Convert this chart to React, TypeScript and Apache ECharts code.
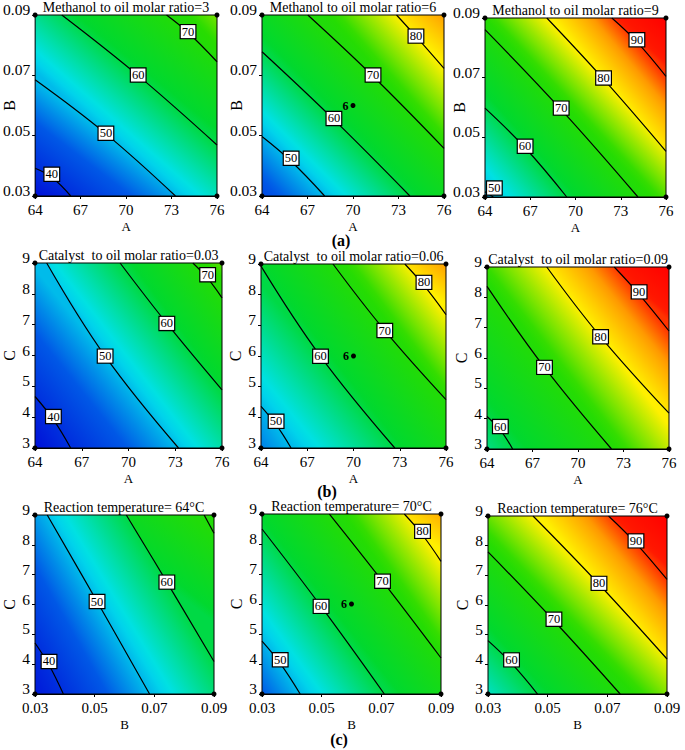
import React, { useEffect, useRef } from "react";
import * as echarts from "echarts";

// ---------- axes ----------
const A_RANGE = [64, 76];
const B_RANGE = [0.03, 0.09];
const C_RANGE = [3, 9];
const A_TICKS = [64, 67, 70, 73, 76];
const B_TICKS = [0.03, 0.05, 0.07, 0.09];
const C_TICKS = [3, 4, 5, 6, 7, 8, 9];

// ---------- colour scale (value -> colour) ----------
const COLOR_VALUES = [36, 45, 52, 61, 72, 80, 86, 91, 97];
const COLOR_HEX = ["#0010d8", "#0058e6", "#00e2ec", "#00d830", "#28dc00", "#fff000", "#ffa000", "#ff1800", "#ff0000"];

const TITLES = [
  "Methanol to oil molar ratio=3",
  "Methanol to oil molar ratio=6",
  "Methanol to oil molar ratio=9",
  "Catalyst  to oil molar ratio=0.03",
  "Catalyst  to oil molar ratio=0.06",
  "Catalyst  to oil molar ratio=0.09",
  "Reaction temperature= 64\u00b0C",
  "Reaction temperature= 70\u00b0C",
  "Reaction temperature= 76\u00b0C",
];
const ROW_LABELS = ["(a)", "(b)", "(c)"];
const CENTER_LABEL = "6";

// ---------- panel 1 : A vs B ----------
const p1Levels = [40, 50, 60, 70];
const p1Lines = [
  [[64, 0.0392], [65.1, 0.0362], [66.35, 0.03]],
  [[64, 0.0685], [68.67, 0.0506], [73.26, 0.03]],
  [[65.76, 0.09], [70.8, 0.0699], [76, 0.0469]],
  [[72.67, 0.09], [74.09, 0.0842], [76, 0.0745]],
];
const p1Labels = [[65.1, 0.0372, 40], [68.67, 0.0508, 50], [70.8, 0.0701, 60], [74.09, 0.0845, 70]];
const p1Extremes = [36, 75];

// ---------- panel 2 ----------
const p2Levels = [50, 60, 70, 80];
const p2Lines = [
  [[64, 0.0497], [65.92, 0.0415], [68.13, 0.03]],
  [[64, 0.0778], [68.74, 0.0553], [73.75, 0.03]],
  [[67.02, 0.09], [71.32, 0.0697], [76, 0.0458]],
  [[72.87, 0.09], [74.15, 0.0829], [76, 0.0723]],
];
const p2Labels = [[65.92, 0.0425, 50], [68.74, 0.0557, 60], [71.32, 0.0701, 70], [74.15, 0.083, 80]];
const p2Extremes = [43, 86];
const p2Center = [70, 0.06];

// ---------- panel 3 ----------
const p3Levels = [50, 60, 70, 80, 90];
const p3Lines = [
  [[64, 0.0318], [64.55, 0.03]],
  [[64, 0.0598], [66.66, 0.0465], [69.42, 0.03]],
  [[64, 0.0861], [69.05, 0.0593], [74.14, 0.03]],
  [[68.1, 0.09], [71.86, 0.0695], [76, 0.0453]],
  [[72.41, 0.09], [74.07, 0.082], [76, 0.0704]],
];
const p3Labels = [[64.62, 0.033, 50], [66.66, 0.047, 60], [69.05, 0.0598, 70], [71.86, 0.0699, 80], [74.07, 0.0827, 90]];
const p3Extremes = [49, 97];

// ---------- panel 4 : A vs C ----------
const p4Levels = [40, 50, 60, 70];
const p4Lines = [
  [[64, 4.67], [65.18, 3.92], [66.29, 3]],
  [[64.75, 9], [68.5, 5.98], [73.21, 3]],
  [[69.46, 9], [72.46, 7.04], [76, 4.885]],
  [[74.13, 9], [75.08, 8.5], [76, 7.87]],
];
const p4Labels = [[65.18, 4.02, 40], [68.5, 5.98, 50], [72.46, 7.04, 60], [75.08, 8.62, 70]];
const p4Extremes = [36, 74];

// ---------- panel 5 ----------
const p5Levels = [50, 60, 70, 80];
const p5Lines = [
  [[64, 4.36], [64.98, 3.76], [65.95, 3]],
  [[64, 8.93], [67.86, 5.99], [72.68, 3]],
  [[68.67, 9], [72.03, 6.83], [76, 4.58]],
  [[73.33, 9], [74.57, 8.3], [76, 7.35]],
];
const p5Labels = [[64.98, 3.87, 50], [67.86, 5.99, 60], [72.03, 6.83, 70], [74.57, 8.4, 80]];
const p5Extremes = [47, 86];
const p5Center = [70, 6];

// ---------- panel 6 ----------
const p6Levels = [60, 70, 80, 90];
const p6Lines = [
  [[64, 4.07], [64.88, 3.62], [65.69, 3]],
  [[64, 8.36], [67.79, 5.69], [72.21, 3]],
  [[67.94, 9], [71.49, 6.7], [76, 4.18]],
  [[72.39, 9], [74.03, 8.1], [76, 6.89]],
];
const p6Labels = [[64.88, 3.74, 60], [67.79, 5.69, 70], [71.49, 6.7, 80], [74.03, 8.18, 90]];
const p6Extremes = [57, 97];

// ---------- panel 7 : B vs C ----------
const p7Levels = [40, 50, 60, 70];
const p7Lines = [
  [[0.03, 4.71], [0.0347, 3.97], [0.0395, 3]],
  [[0.0341, 9], [0.0508, 6.1], [0.0684, 3]],
  [[0.0606, 9], [0.0742, 6.75], [0.09, 4.09]],
  [[0.0867, 9], [0.09, 8.39]],
];
const p7Labels = [[0.0347, 4.09, 40], [0.0508, 6.1, 50], [0.0742, 6.75, 60]];
const p7Extremes = [37, 71];

// ---------- panel 8 ----------
const p8Levels = [50, 60, 70, 80];
const p8Lines = [
  [[0.03, 4.76], [0.0361, 4.02], [0.0428, 3]],
  [[0.03, 8.5], [0.0498, 5.92], [0.071, 3]],
  [[0.0526, 9], [0.0704, 6.76], [0.09, 4.2]],
  [[0.0777, 9], [0.0838, 8.3], [0.09, 7.42]],
];
const p8Labels = [[0.0361, 4.14, 50], [0.0498, 5.92, 60], [0.0704, 6.76, 70], [0.0838, 8.42, 80]];
const p8Extremes = [45, 85];
const p8Center = [0.06, 6];

// ---------- panel 9 ----------
const p9Levels = [60, 70, 80, 90];
const p9Lines = [
  [[0.03, 4.8], [0.0379, 4.03], [0.0466, 3]],
  [[0.03, 7.79], [0.0521, 5.47], [0.0743, 3]],
  [[0.0451, 9], [0.0672, 6.7], [0.09, 4.18]],
  [[0.0704, 9], [0.0796, 8.08], [0.09, 6.86]],
];
const p9Labels = [[0.0379, 4.15, 60], [0.0521, 5.52, 70], [0.0672, 6.73, 80], [0.0796, 8.16, 90]];
const p9Extremes = [54, 97];

// ---------- assembly ----------
const AXES: Record<string, { range: number[]; ticks: number[]; digits: number }> = {
  A: { range: A_RANGE, ticks: A_TICKS, digits: 0 },
  B: { range: B_RANGE, ticks: B_TICKS, digits: 2 },
  C: { range: C_RANGE, ticks: C_TICKS, digits: 0 },
};

const PANELS: any[] = [
  { x: "A", y: "B", levels: p1Levels, lines: p1Lines, labels: p1Labels, extremes: p1Extremes, center: null },
  { x: "A", y: "B", levels: p2Levels, lines: p2Lines, labels: p2Labels, extremes: p2Extremes, center: p2Center },
  { x: "A", y: "B", levels: p3Levels, lines: p3Lines, labels: p3Labels, extremes: p3Extremes, center: null },
  { x: "A", y: "C", levels: p4Levels, lines: p4Lines, labels: p4Labels, extremes: p4Extremes, center: null },
  { x: "A", y: "C", levels: p5Levels, lines: p5Lines, labels: p5Labels, extremes: p5Extremes, center: p5Center },
  { x: "A", y: "C", levels: p6Levels, lines: p6Lines, labels: p6Labels, extremes: p6Extremes, center: null },
  { x: "B", y: "C", levels: p7Levels, lines: p7Lines, labels: p7Labels, extremes: p7Extremes, center: null },
  { x: "B", y: "C", levels: p8Levels, lines: p8Lines, labels: p8Labels, extremes: p8Extremes, center: p8Center },
  { x: "B", y: "C", levels: p9Levels, lines: p9Lines, labels: p9Labels, extremes: p9Extremes, center: null },
];

const LAYOUT = [
  { left: 35, top: 15, width: 182, height: 181 },
  { left: 262, top: 15, width: 182, height: 181 },
  { left: 485, top: 18, width: 181, height: 179 },
  { left: 35, top: 263, width: 187, height: 185 },
  { left: 261, top: 264, width: 185, height: 184 },
  { left: 487, top: 267, width: 182, height: 182 },
  { left: 34, top: 515, width: 180, height: 179 },
  { left: 262, top: 514, width: 179, height: 180 },
  { left: 488, top: 516, width: 179, height: 178 },
];
const ROW_LABEL_POS = [
  { x: 341, y: 240 },
  { x: 327, y: 491 },
  { x: 339, y: 739 },
];

const FONT = '"Liberation Serif", "Times New Roman", serif';

function hexToRgb(h: string) {
  const n = parseInt(h.slice(1), 16);
  return [(n >> 16) & 255, (n >> 8) & 255, n & 255];
}
function colorAt(v: number) {
  const vs = COLOR_VALUES;
  if (v <= vs[0]) return COLOR_HEX[0];
  if (v >= vs[vs.length - 1]) return COLOR_HEX[vs.length - 1];
  let i = 0;
  while (v > vs[i + 1]) i++;
  const t = (v - vs[i]) / (vs[i + 1] - vs[i]);
  const a = hexToRgb(COLOR_HEX[i]);
  const b = hexToRgb(COLOR_HEX[i + 1]);
  const c = a.map((x, k) => Math.round(x + (b[k] - x) * t));
  return `rgb(${c[0]},${c[1]},${c[2]})`;
}
function makeGrad(p0: number[], p1: number[], v0: number, v1: number) {
  const n = 8;
  const stops = [];
  for (let k = 0; k <= n; k++) {
    const o = k / n;
    stops.push({ offset: o, color: colorAt(v0 + (v1 - v0) * o) });
  }
  return new echarts.graphic.LinearGradient(p0[0], p0[1], p1[0], p1[1], stops, true);
}
function closestOnPolyline(p: number[], pts: number[][]) {
  let best = pts[0];
  let bd = Infinity;
  for (let i = 0; i < pts.length - 1; i++) {
    const a = pts[i], b = pts[i + 1];
    const dx = b[0] - a[0], dy = b[1] - a[1];
    const len2 = dx * dx + dy * dy || 1;
    let t = ((p[0] - a[0]) * dx + (p[1] - a[1]) * dy) / len2;
    t = Math.max(0, Math.min(1, t));
    const q = [a[0] + t * dx, a[1] + t * dy];
    const d = (q[0] - p[0]) ** 2 + (q[1] - p[1]) ** 2;
    if (d < bd) {
      bd = d;
      best = q;
    }
  }
  return best;
}
function midAlong(pts: number[][]) {
  const segs: number[] = [];
  let total = 0;
  for (let i = 0; i < pts.length - 1; i++) {
    const l = Math.hypot(pts[i + 1][0] - pts[i][0], pts[i + 1][1] - pts[i][1]);
    segs.push(l);
    total += l;
  }
  let half = total / 2;
  for (let i = 0; i < segs.length; i++) {
    if (half <= segs[i]) {
      const t = segs[i] ? half / segs[i] : 0;
      return [pts[i][0] + (pts[i + 1][0] - pts[i][0]) * t, pts[i][1] + (pts[i + 1][1] - pts[i][1]) * t];
    }
    half -= segs[i];
  }
  return pts[pts.length - 1];
}
const near = (a: number, b: number) => Math.abs(a - b) <= 1e-7 * Math.max(1, Math.abs(b));

function buildOption() {
  const grid: any[] = [];
  const xAxis: any[] = [];
  const yAxis: any[] = [];
  const series: any[] = [];
  const graphic: any[] = [];

  PANELS.forEach((pn, i) => {
    const L = LAYOUT[i];
    const ax = AXES[pn.x];
    const ay = AXES[pn.y];
    grid.push({ left: L.left, top: L.top, width: L.width, height: L.height, containLabel: false });
    xAxis.push({
      type: "value",
      gridIndex: i,
      min: ax.range[0],
      max: ax.range[1],
      name: pn.x,
      nameLocation: "middle",
      nameGap: 24,
      nameMoveOverlap: false,
      nameTextStyle: { fontSize: 13, lineHeight: 13, color: "#000", fontFamily: FONT },
      axisLine: { show: true, onZero: false, lineStyle: { color: "#000", width: 1 } },
      axisTick: { show: true, length: 3, customValues: ax.ticks, lineStyle: { color: "#000" } },
      axisLabel: {
        show: true,
        customValues: ax.ticks,
        formatter: (v: number) => Number(v).toFixed(ax.digits),
        fontSize: 15,
        lineHeight: 12,
        color: "#000",
        fontFamily: FONT,
        margin: 8,
      },
      splitLine: { show: false },
    });
    yAxis.push({
      type: "value",
      gridIndex: i,
      min: ay.range[0],
      max: ay.range[1],
      name: pn.y,
      nameLocation: "middle",
      nameGap: 18,
      nameMoveOverlap: false,
      nameTextStyle: { fontSize: 16, color: "#000", fontFamily: FONT },
      axisLine: { show: true, onZero: false, lineStyle: { color: "#000", width: 1 } },
      axisTick: { show: true, length: 3, customValues: ay.ticks, lineStyle: { color: "#000" } },
      axisLabel: {
        show: true,
        customValues: ay.ticks,
        formatter: (v: number) => Number(v).toFixed(ay.digits),
        fontSize: 15.5,
        lineHeight: 11,
        color: "#000",
        fontFamily: FONT,
        margin: 5,
        verticalAlign: "bottom",
      },
      splitLine: { show: false },
    });

    // background colour field (layers bounded by the contour lines)
    series.push({
      type: "custom",
      xAxisIndex: i,
      yAxisIndex: i,
      silent: true,
      z: 1,
      data: [[ax.range[0], ay.range[0]]],
      renderItem: (_params: any, api: any) => {
        const [x0, x1] = ax.range;
        const [y0, y1] = ay.range;
        const P = (p: number[]) => api.coord(p);
        const BL = P([x0, y0]);
        const BR = P([x1, y0]);
        const TR = P([x1, y1]);
        const TL = P([x0, y1]);
        const linesPx = pn.lines.map((l: number[][]) => l.map(P));
        const children: any[] = [];
        const firstEnd = closestOnPolyline(BL, linesPx[0]);
        children.push({
          type: "rect",
          shape: { x: TL[0], y: TL[1], width: TR[0] - TL[0], height: BL[1] - TL[1] },
          style: { fill: makeGrad(BL, firstEnd, pn.extremes[0], pn.levels[0]) },
        });
        pn.lines.forEach((line: number[][], k: number) => {
          const S = line[0];
          const E = line[line.length - 1];
          const pts = linesPx[k].slice();
          if (near(E[1], y0)) pts.push(BR);
          pts.push(TR);
          if (near(S[0], x0)) pts.push(TL);
          const a = midAlong(linesPx[k]);
          let b: number[];
          let v1: number;
          if (k < pn.lines.length - 1) {
            b = closestOnPolyline(a, linesPx[k + 1]);
            v1 = pn.levels[k + 1];
          } else {
            b = TR;
            v1 = pn.extremes[1];
          }
          children.push({
            type: "polygon",
            shape: { points: pts },
            style: { fill: makeGrad(a, b, pn.levels[k], v1) },
          });
        });
        children.push({
          type: "rect",
          shape: { x: TL[0], y: TL[1], width: TR[0] - TL[0], height: BL[1] - TL[1] },
          style: { fill: "none", stroke: "#000", lineWidth: 1 },
        });
        return { type: "group", children };
      },
    });

    // contour lines
    pn.lines.forEach((line: number[][]) => {
      series.push({
        type: "line",
        xAxisIndex: i,
        yAxisIndex: i,
        data: line,
        smooth: 0.4,
        symbol: "none",
        showSymbol: false,
        silent: true,
        z: 3,
        lineStyle: { color: "#000", width: 1.2 },
      });
    });

    // contour labels
    series.push({
      type: "scatter",
      xAxisIndex: i,
      yAxisIndex: i,
      data: pn.labels,
      symbol: "rect",
      symbolSize: 1,
      silent: true,
      clip: false,
      z: 4,
      itemStyle: { color: "rgba(0,0,0,0)", opacity: 1 },
      label: {
        show: true,
        position: "inside",
        formatter: (p: any) => String(p.value[2]),
        fontSize: 12.5,
        lineHeight: 12,
        fontFamily: FONT,
        color: "#000",
        backgroundColor: "#ffffff",
        borderColor: "#000",
        borderWidth: 1.2,
        padding: [1, 1, 0, 1],
        opacity: 1,
      },
    });

    // centre point
    if (pn.center) {
      series.push({
        type: "scatter",
        xAxisIndex: i,
        yAxisIndex: i,
        data: [pn.center],
        symbol: "circle",
        symbolSize: 5,
        silent: true,
        z: 5,
        itemStyle: { color: "#000", opacity: 1 },
        label: {
          show: true,
          position: "left",
          distance: 2,
          formatter: CENTER_LABEL,
          fontSize: 12,
          fontWeight: "bold",
          fontFamily: FONT,
          color: "#000",
        },
      });
    }

    // corner dots
    series.push({
      type: "scatter",
      xAxisIndex: i,
      yAxisIndex: i,
      data: [
        [ax.range[0], ay.range[0]],
        [ax.range[0], ay.range[1]],
        [ax.range[1], ay.range[0]],
        [ax.range[1], ay.range[1]],
      ],
      symbol: "circle",
      symbolSize: 5,
      silent: true,
      clip: false,
      z: 6,
      itemStyle: { color: "#000", opacity: 1 },
    });

    graphic.push({
      type: "text",
      x: L.left + L.width / 2,
      y: L.top - 8,
      silent: true,
      style: {
        text: TITLES[i],
        fill: "#000",
        font: `14px ${FONT}`,
        align: "center",
        verticalAlign: "middle",
        textAlign: "center",
        textVerticalAlign: "middle",
      },
    });
  });

  ROW_LABELS.forEach((t, r) => {
    graphic.push({
      type: "text",
      x: ROW_LABEL_POS[r].x,
      y: ROW_LABEL_POS[r].y,
      silent: true,
      style: {
        text: t,
        fill: "#000",
        font: `bold 16px ${FONT}`,
        align: "center",
        verticalAlign: "middle",
        textAlign: "center",
        textVerticalAlign: "middle",
      },
    });
  });

  return {
    animation: false,
    backgroundColor: "#fff",
    textStyle: { fontFamily: FONT },
    grid,
    xAxis,
    yAxis,
    series,
    graphic,
  };
}

export default function App() {
  const ref = useRef<HTMLDivElement>(null);
  useEffect(() => {
    const chart = echarts.init(ref.current!, undefined, { renderer: "svg" });
    chart.setOption(buildOption() as any);
    return () => chart.dispose();
  }, []);
  return (
    <div
      ref={ref}
      style={{ position: "absolute", left: 0, top: 0, width: 685, height: 750, background: "#fff" }}
    />
  );
}
